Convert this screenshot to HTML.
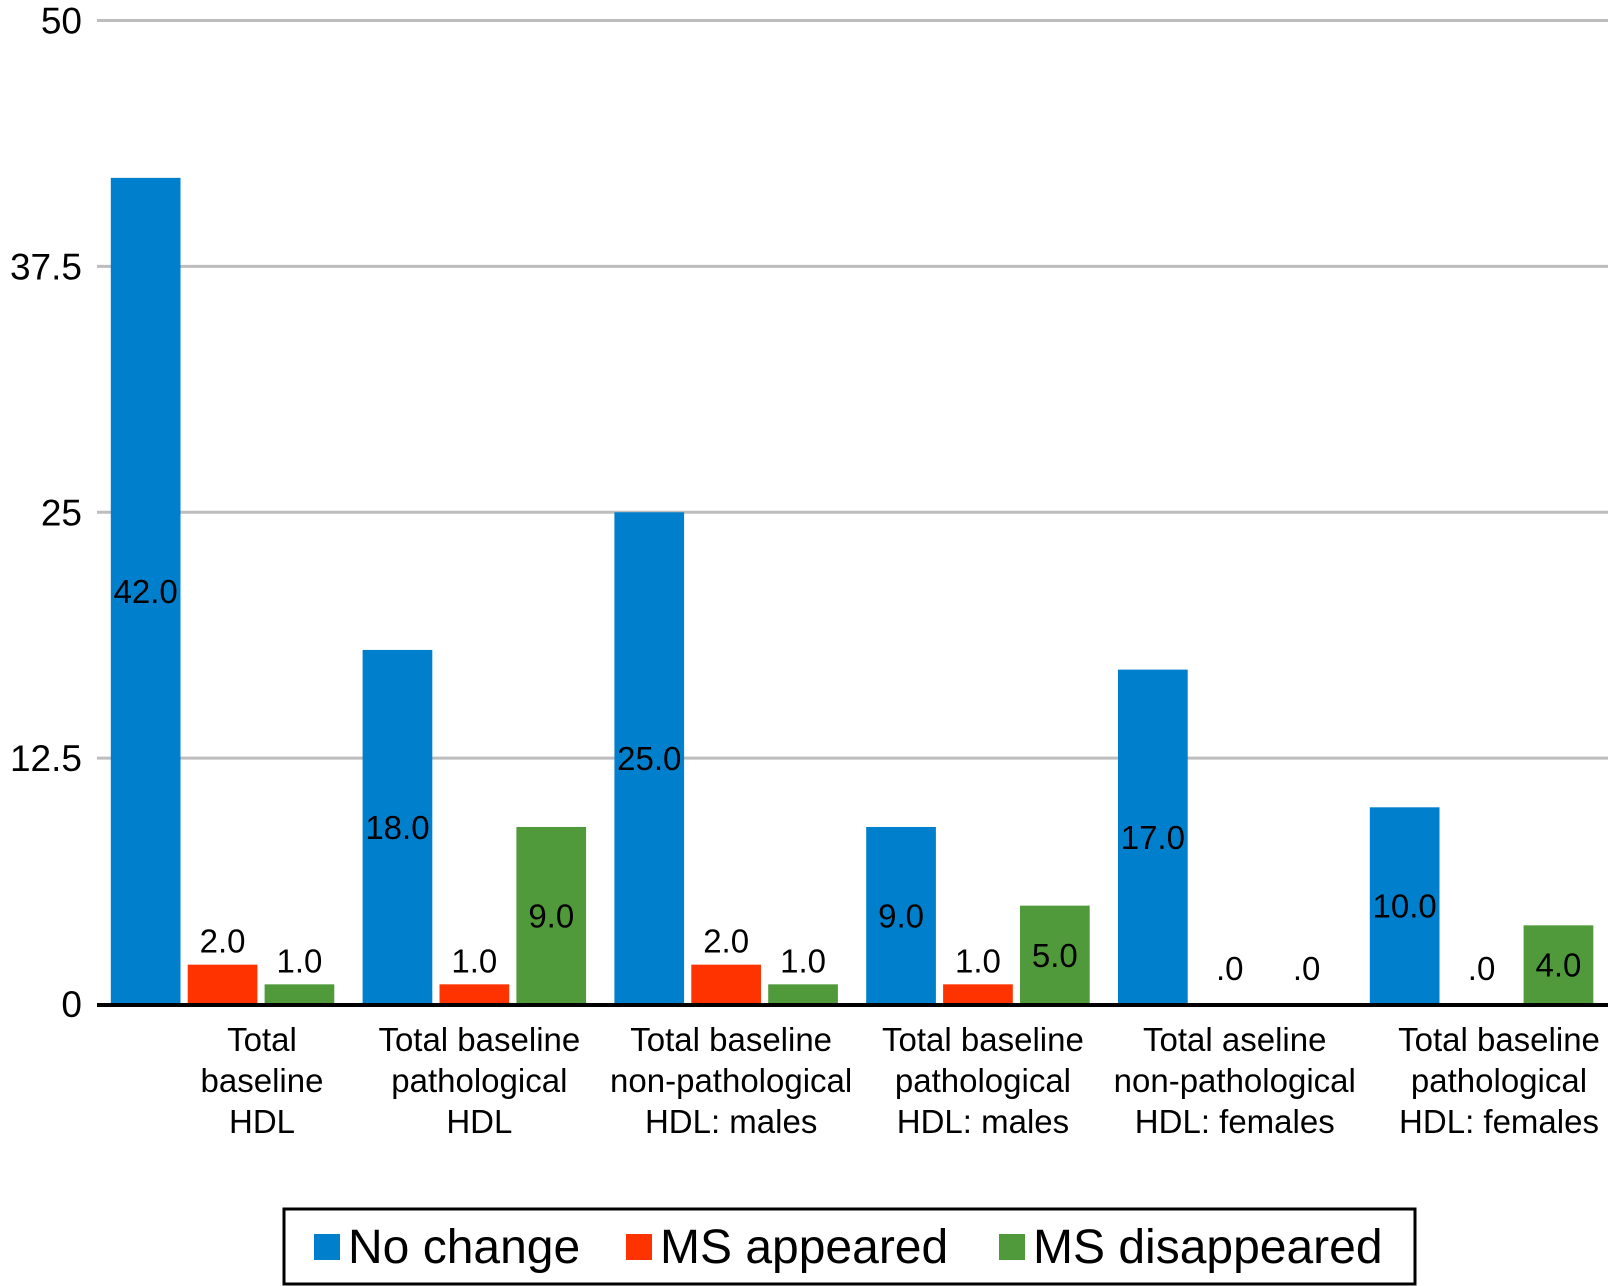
<!DOCTYPE html>
<html><head><meta charset="utf-8"><style>
html,body{margin:0;padding:0;background:#fff;}
svg{display:block;font-family:"Liberation Sans",Arial,sans-serif;}
</style></head><body>
<svg id="chart" width="1608" height="1286" viewBox="0 0 1608 1286"></svg>
<script>
const categories=[["Total","baseline","HDL"],["Total baseline","pathological","HDL"],["Total baseline","non-pathological","HDL: males"],["Total baseline","pathological","HDL: males"],["Total aseline","non-pathological","HDL: females"],["Total baseline","pathological","HDL: females"]];
const noChange=[42,18,25,9,17,10];
const msAppeared=[2,1,2,1,0,0];
const msDisappeared=[1,9,1,5,0,4];
const seriesNames=["No change","MS appeared","MS disappeared"];
const ticks=[0,12.5,25,37.5,50];
const tickLabels=["0","12.5","25","37.5","50"];

const colors=["#0080CC","#FF3300","#519A3C"];
const NS="http://www.w3.org/2000/svg";
const svg=document.getElementById('chart');
const y0=1004,y1=20.5,xL=97,xR=1608;
function y(v){return y0-(v/50)*(y0-y1);}
const groupStart=110.8,groupStep=251.8,barStep=76.9,barW=69.7;
function x(g,s){return groupStart+g*groupStep+s*barStep;}
function el(t,a){const e=document.createElementNS(NS,t);for(const k in a)e.setAttribute(k,a[k]);svg.appendChild(e);return e;}

ticks.forEach((t,i)=>{
  if(t>0){const l=el('line',{x1:xL,x2:xR,y1:y(t),y2:y(t),stroke:'#BDBDBD','stroke-width':3});
  
  }
  const tx=el('text',{x:82,y:y(t)+13,'text-anchor':'end','font-size':37,fill:'#000'});
  tx.textContent=tickLabels[i];
  
  
});

const series=[noChange,msAppeared,msDisappeared];
series.forEach((vals,s)=>{
  vals.forEach((v,g)=>{
    const bx=x(g,s),top=y(v),h=y0-top;
    const r=el('rect',{x:bx,y:top,width:barW,height:h,fill:colors[s]});
    
    
    let ly;
    if(s===0||h>60) ly=top+h/2+12; else if(v===0) ly=top-24; else ly=top-12;
    const t=el('text',{x:bx+barW/2,y:ly,'text-anchor':'middle','font-size':33,fill:'#000'});
    t.textContent=v===0?'.0':v.toFixed(1);
    
    
  });
});

const axis=el('line',{x1:xL,x2:xR,y1:y0+1,y2:y0+1,stroke:'#000','stroke-width':4});



categories.forEach((lines,g)=>{
  let cx=x(g,1)+barW/2+5;
  if(g===0) cx=262;
  if(g===5) cx=1499;
  lines.forEach((ln,i)=>{
    const t=el('text',{x:cx,y:1051+i*41,'text-anchor':'middle','font-size':33,fill:'#000'});
    t.textContent=ln;
    
    
  });
});

const lg=el('rect',{x:284,y:1209,width:1131,height:75,fill:'none',stroke:'#000','stroke-width':3});


const legX=[314,626,999];
seriesNames.forEach((n,i)=>{
  const r=el('rect',{x:legX[i],y:1234,width:26,height:26,fill:colors[i]});
  
  
  const t=el('text',{x:legX[i]+34,y:1263,'font-size':48,fill:'#000'});
  t.textContent=n;
  
  
});
</script>
</body></html>
